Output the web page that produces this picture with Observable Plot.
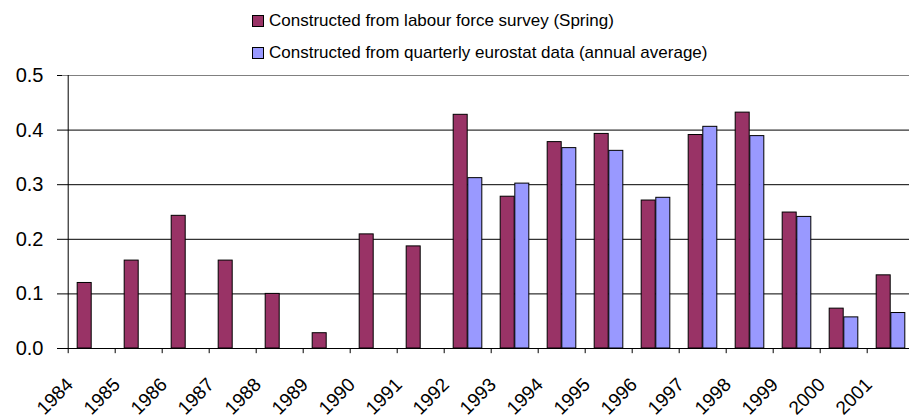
<!DOCTYPE html>
<html>
<head>
<meta charset="utf-8">
<script src="https://cdn.jsdelivr.net/npm/d3@7"></script>
<script src="https://cdn.jsdelivr.net/npm/@observablehq/plot@0.6"></script>
<style>
  body { margin: 0; background: #fff; font-family: "Liberation Sans", Arial, sans-serif; }
  #wrap { position: relative; width: 909px; height: 419px; overflow: hidden; }
  #legend { position: absolute; left: 252px; top: 5px; font-size: 17px; color: #000; }
  .row { display: flex; align-items: center; height: 32px; }
  .sw { width: 10px; height: 10px; border: 1px solid #000; margin-right: 5px; }
</style>
</head>
<body>
<div id="wrap"><div id="legend"></div></div>
<script>
const years = ["1984","1985","1986","1987","1988","1989","1990","1991","1992","1993","1994","1995","1996","1997","1998","1999","2000","2001"];
const seriesNames = ["Constructed from labour force survey (Spring)", "Constructed from quarterly eurostat data (annual average)"];
const seriesColors = ["#993366", "#9999FF"];
const spring = [0.120, 0.161, 0.243, 0.161, 0.100, 0.028, 0.209, 0.187, 0.428, 0.278, 0.378, 0.393, 0.271, 0.391, 0.432, 0.249, 0.073, 0.134];
const eurostat = [null, null, null, null, null, null, null, null, 0.312, 0.302, 0.367, 0.362, 0.276, 0.406, 0.389, 0.241, 0.057, 0.065];
const yTicks = [0, 0.1, 0.2, 0.3, 0.4, 0.5];

const data = [];
years.forEach((y, i) => {
  data.push({year: y, series: seriesNames[0], value: spring[i]});
  if (eurostat[i] != null) data.push({year: y, series: seriesNames[1], value: eurostat[i]});
});

const W = 909, H = 419, mL = 62, mR = -10, mT = 75, mB = 71;
const bw = (W - mL - mR) / years.length;
const barW = bw * 0.307;
const gap = (bw - 2 * barW) / 2;

const chart = Plot.plot({
  width: W, height: H,
  marginLeft: mL, marginRight: mR, marginTop: mT, marginBottom: mB,
  style: {fontFamily: "Liberation Sans, Arial, sans-serif", fontSize: "20px", color: "#000", background: "#fff", overflow: "hidden"},
  x: {domain: years, padding: 0, axis: null, label: null},
  y: {domain: [0, 0.5], axis: null, label: null},
  color: {domain: seriesNames, range: seriesColors},
  marks: [
    Plot.ruleY(yTicks.filter(d => d > 0 && d < 0.5), {y: d => d, stroke: "#000", strokeWidth: 1}),
    Plot.ruleY([0.5], {stroke: "#808080", strokeWidth: 1}),
    Plot.barY(data.filter(d => d.series === seriesNames[0]), {x: "year", y: "value", fill: seriesColors[0], stroke: "#000", strokeWidth: 1, insetLeft: gap, insetRight: bw - gap - barW}),
    Plot.barY(data.filter(d => d.series === seriesNames[1]), {x: "year", y: "value", fill: seriesColors[1], stroke: "#000", strokeWidth: 1, insetLeft: gap + barW, insetRight: gap}),
    Plot.ruleY([0], {stroke: "#000", strokeWidth: 1}),
    Plot.ruleX([0], {x: () => years[0], dx: -bw / 2, y1: 0, y2: 0.5, stroke: "#000"}),
    Plot.ruleX(years, {x: d => d, dx: -bw / 2, y1: 0, y2: -0.0095, stroke: "#000"}),
    Plot.axisY({ticks: yTicks, tickFormat: d3.format(".1f"), tickSize: 5, tickPadding: 14, fontSize: 20, anchor: "left", label: null}),
    Plot.axisX({tickSize: 0, tickRotate: -45, fontSize: 19, tickPadding: 0, dx: -22, dy: 33, textAnchor: "end", label: null})
  ]
});
document.getElementById("wrap").appendChild(chart);

const legend = document.getElementById("legend");
seriesNames.forEach((n, i) => {
  const r = document.createElement("div"); r.className = "row";
  const s = document.createElement("div"); s.className = "sw"; s.style.background = seriesColors[i];
  const t = document.createElement("span"); t.textContent = n;
  r.appendChild(s); r.appendChild(t); legend.appendChild(r);
});
</script>
</body>
</html>
